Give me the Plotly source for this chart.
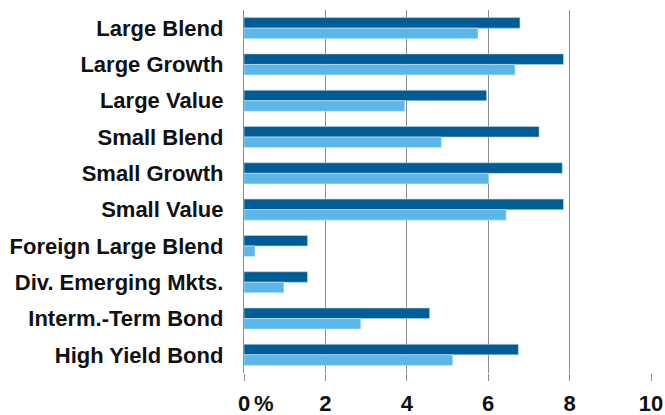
import plotly.graph_objects as go

categories = ["Large Blend", "Large Growth", "Large Value", "Small Blend", "Small Growth",
              "Small Value", "Foreign Large Blend", "Div. Emerging Mkts.",
              "Interm.-Term Bond", "High Yield Bond"]
series_dark = [6.78, 7.85, 5.96, 7.25, 7.82, 7.85, 1.56, 1.56, 4.56, 6.74]
series_light = [5.75, 6.66, 3.95, 4.85, 6.01, 6.44, 0.27, 0.98, 2.87, 5.13]
tick_vals = [0, 2, 4, 6, 8, 10]
tick_text = ["0", "2", "4", "6", "8", "10"]

DARK = "#005C94"
LIGHT = "#5CB6E8"
GRID = "#8C8C8C"
FONT = "Liberation Sans"

fig = go.Figure()
fig.add_trace(go.Bar(y=categories, x=series_dark, orientation="h", marker_color=DARK,
                     marker_line=dict(color="rgba(180,215,240,0.6)", width=1), name="A"))
fig.add_trace(go.Bar(y=categories, x=series_light, orientation="h", marker_color=LIGHT,
                     marker_line=dict(color="rgba(210,235,250,0.6)", width=1), name="B"))

fig.update_layout(
    width=665, height=415,
    margin=dict(l=244, r=14, t=10, b=42, autoexpand=False),
    barmode="group", bargap=0.42, bargroupgap=0,
    plot_bgcolor="white", paper_bgcolor="white",
    showlegend=False,
    font=dict(family=FONT, size=20, color="#111111"),
)
fig.update_xaxes(
    range=[0, 10], tickvals=tick_vals, ticktext=tick_text,
    showgrid=True, gridcolor=GRID, gridwidth=1.3,
    ticks="outside", ticklen=7, tickcolor=GRID, tickwidth=1.3,
    zeroline=False, showline=False, automargin=False,
    tickfont=dict(family=FONT, size=22, color="#111111", weight="bold"),
    ticklabelstandoff=4,
)
fig.update_yaxes(
    autorange="reversed", showgrid=False, zeroline=False, automargin=False,
    showline=True, linecolor=GRID, linewidth=1.3,
    ticks="", ticklabelstandoff=15,
    tickfont=dict(family=FONT, size=22, color="#111111", weight="bold"),
)
fig.add_annotation(x=0, y=0, xref="x", yref="paper", text="%", showarrow=False,
                   xanchor="left", yanchor="top", xshift=8, yshift=-16,
                   font=dict(family=FONT, size=22, color="#111111", weight="bold"))

fig.write_html("out.html")
